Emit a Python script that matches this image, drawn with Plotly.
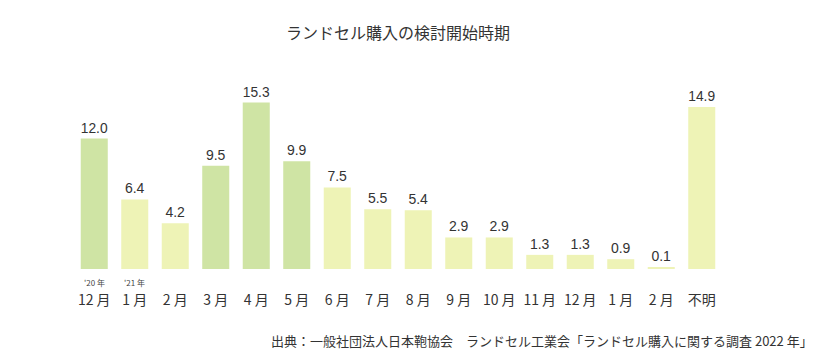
import plotly.graph_objects as go

categories = ["12 月", "1 月", "2 月", "3 月", "4 月", "5 月", "6 月", "7 月", "8 月",
              "9 月", "10 月", "11 月", "12 月", "1 月", "2 月", "不明"]
values = [12.0, 6.4, 4.2, 9.5, 15.3, 9.9, 7.5, 5.5, 5.4, 2.9, 2.9, 1.3, 1.3, 0.9, 0.1, 14.9]
highlight = [True, False, False, True, True, True, False, False, False,
             False, False, False, False, False, False, False]
year_labels = {0: "'20 年", 1: "'21 年"}

title = "ランドセル購入の検討開始時期"
source = "出典：一般社団法人日本鞄協会　ランドセル工業会「ランドセル購入に関する調査 2022 年」"

GREEN = "#cfe4a4"
YELLOW = "#eef3b6"
FONT = "Noto Sans CJK JP"

x = list(range(len(categories)))
colors = [GREEN if h else YELLOW for h in highlight]

fig = go.Figure()
fig.add_trace(go.Bar(
    x=x, y=values,
    marker=dict(color=colors, line=dict(width=0)),
    text=[f"{v:.1f}" for v in values],
    textposition="outside",
    textfont=dict(size=14, color="#333333", family="Liberation Sans"),
    cliponaxis=False,
    hoverinfo="skip",
))

annotations = []
for i, lbl in year_labels.items():
    annotations.append(dict(
        x=i, y=0, xref="x", yref="y", text=lbl, showarrow=False,
        yanchor="top", yshift=-6, font=dict(size=8, color="#444444", family=FONT),
    ))
annotations.append(dict(
    x=1, y=0, xref="paper", yref="paper", xanchor="right", yanchor="middle",
    text=source, showarrow=False, xshift=93, yshift=-71,
    font=dict(size=13, color="#333333", family=FONT),
))

fig.update_layout(
    width=817, height=352,
    margin=dict(l=74, r=95, t=95, b=83),
    paper_bgcolor="white", plot_bgcolor="white",
    title=dict(text=title, x=0.5, xref="paper", xanchor="center", y=1 - 33 / 352,
               yanchor="middle", font=dict(size=16, color="#333333", family=FONT)),
    bargap=0.333,
    showlegend=False,
    xaxis=dict(tickmode="array", tickvals=x, ticktext=categories, range=[-0.5, 15.5],
               showgrid=False, zeroline=False, showline=False, ticks="",
               ticklabelstandoff=21,
               tickfont=dict(size=14, color="#333333", family=FONT)),
    yaxis=dict(range=[0, 16], visible=False, showgrid=False, zeroline=False),
    annotations=annotations,
    font=dict(family=FONT),
)

fig.write_html("out.html")
